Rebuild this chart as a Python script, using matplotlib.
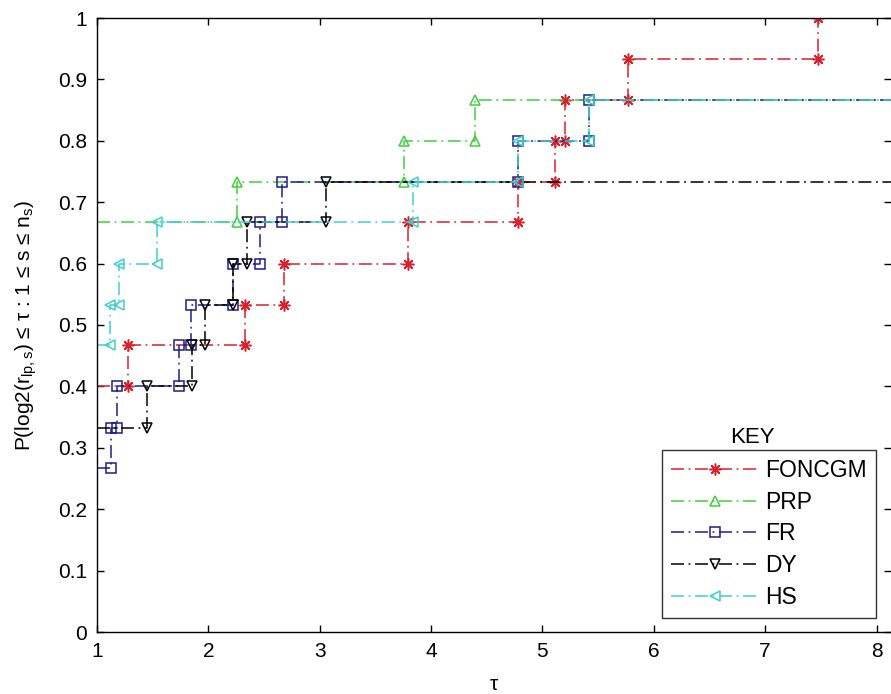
import matplotlib
matplotlib.use("Agg")
import matplotlib.pyplot as plt
import numpy as np

plt.rcParams['font.family'] = ['Liberation Sans', 'DejaVu Sans']
plt.rcParams['mathtext.fontset'] = 'custom'
plt.rcParams['mathtext.rm'] = 'Liberation Sans'
plt.rcParams['mathtext.it'] = 'Liberation Sans'

# performance profile data: tau where each step happens, and level after each step
solvers = ["FONCGM", "PRP", "FR", "DY", "HS"]

foncgm_tau = [1.28, 2.33, 2.68, 3.79, 4.78, 5.11, 5.20, 5.77, 7.47]
foncgm_lvl = [0.400, 0.467, 0.533, 0.600, 0.667, 0.733, 0.800, 0.867, 0.933, 1.000]

prp_tau = [2.26, 3.76, 4.39]
prp_lvl = [0.667, 0.733, 0.800, 0.867]

fr_tau = [1.13, 1.18, 1.74, 1.84, 2.22, 2.46, 2.66, 4.78, 5.42]
fr_lvl = [0.267, 0.333, 0.400, 0.467, 0.533, 0.600, 0.667, 0.733, 0.800, 0.867]

dy_tau = [1.45, 1.85, 1.97, 2.22, 2.35, 3.06]
dy_lvl = [0.333, 0.400, 0.467, 0.533, 0.600, 0.667, 0.733]

hs_tau = [1.12, 1.20, 1.54, 3.84, 4.78, 5.42]
hs_lvl = [0.467, 0.533, 0.600, 0.667, 0.733, 0.800, 0.867]

TAU_MIN, TAU_MAX = 1.0, 8.13

styles = {
    "FONCGM": dict(color="#d9202c", marker=(8, 2, 0), ms=8.5),
    "PRP": dict(color="#3fcf3f", marker="^", ms=6.5),
    "FR": dict(color="#1c1c8a", marker="s", ms=6.5),
    "DY": dict(color="black", marker="v", ms=6.5),
    "HS": dict(color="#3fcfcf", marker="<", ms=6.5),
}
data = {
    "FONCGM": (foncgm_tau, foncgm_lvl),
    "PRP": (prp_tau, prp_lvl),
    "FR": (fr_tau, fr_lvl),
    "DY": (dy_tau, dy_lvl),
    "HS": (hs_tau, hs_lvl),
}


def stair_vertices(tau, lvl):
    # corners of the staircase, like matlab's stairs()
    tau = np.asarray(tau, float)
    lvl = np.asarray(lvl, float)
    xs = np.concatenate([[TAU_MIN], np.repeat(tau, 2), [TAU_MAX]])
    ys = np.repeat(lvl, 2)
    return xs, ys


fig = plt.figure(figsize=(8.91, 6.94), dpi=100)
W, H = 891, 694
ax = fig.add_axes([97 / W, (H - 632) / H, (891 - 97) / W, (632 - 18) / H])

dash = (0, (8.5, 3, 1.2, 3))
for name in solvers:
    xs, ys = stair_vertices(*data[name])
    st = styles[name]
    ax.plot(xs, ys, linestyle=dash, color=st["color"], lw=1.1,
            marker=st["marker"], markersize=st["ms"],
            markerfacecolor="none", markeredgecolor=st["color"],
            markeredgewidth=1.1, markevery=slice(1, -1), label=name)

ax.set_xlim(TAU_MIN, TAU_MAX)
ax.set_ylim(0, 1)
ax.set_xticks(range(1, 9))
ax.set_yticks(np.round(np.arange(0, 1.01, 0.1), 1))
ax.set_yticklabels(["0"] + [f"{v:.1f}" for v in np.arange(0.1, 0.95, 0.1)] + ["1"])
ax.tick_params(direction="in", length=5, width=1, top=True, right=True,
               labelsize=15, pad=7)
ax.spines["right"].set_visible(False)
for s in ["left", "bottom", "top"]:
    ax.spines[s].set_linewidth(1.0)

ax.set_xlabel("τ", fontsize=15, labelpad=10)
ax.set_ylabel(r"P(log2(r$_{\mathrm{lp,s}}$) ≤ τ : 1 ≤ s ≤ n$_{\mathrm{s}}$)",
              fontsize=15, labelpad=14)

leg = ax.legend(loc="lower right",
                bbox_to_anchor=((876 - 97) / 794, (632 - 618) / 614),
                borderaxespad=0, fontsize=16.5, handlelength=3.8,
                handletextpad=0.3, labelspacing=0.38, numpoints=1,
                frameon=True, fancybox=False, edgecolor="black",
                borderpad=0.4)
leg.get_frame().set_linewidth(1.0)

fig.text(752 / W, 1 - 437 / H, "KEY", fontsize=16, ha="center", va="center")

fig.savefig("out.png", dpi=100)
